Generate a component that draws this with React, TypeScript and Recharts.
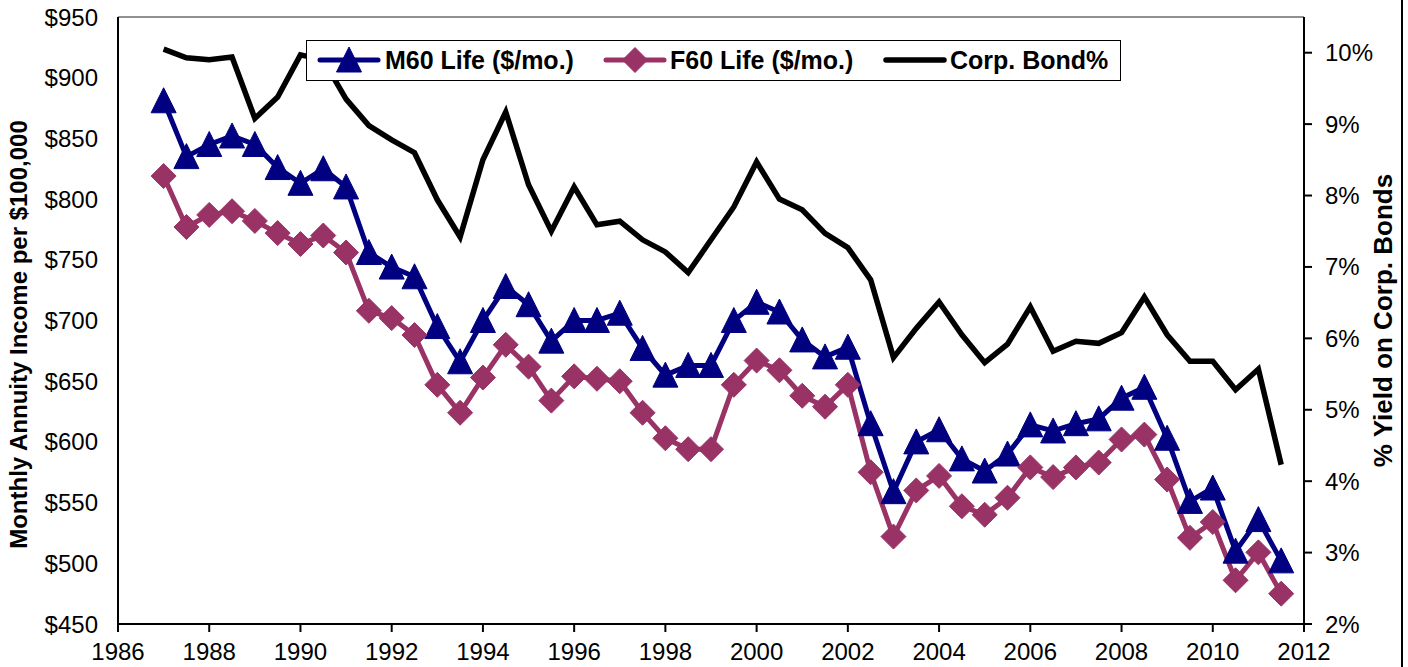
import React from 'react';
import { ComposedChart, Line, XAxis, YAxis, CartesianGrid } from 'recharts';

const years = [
  1987, 1987.5, 1988, 1988.5, 1989, 1989.5, 1990, 1990.5, 1991, 1991.5,
  1992, 1992.5, 1993, 1993.5, 1994, 1994.5, 1995, 1995.5, 1996, 1996.5,
  1997, 1997.5, 1998, 1998.5, 1999, 1999.5, 2000, 2000.5, 2001, 2001.5,
  2002, 2002.5, 2003, 2003.5, 2004, 2004.5, 2005, 2005.5, 2006, 2006.5,
  2007, 2007.5, 2008, 2008.5, 2009, 2009.5, 2010, 2010.5, 2011, 2011.5,
];

const m60 = [
  881, 835, 845, 852, 845, 826, 813, 825, 810, 756,
  744, 736, 695, 666, 700, 728, 713, 683, 700, 700,
  706, 677, 655, 663, 663, 700, 715, 707, 684, 670,
  678, 615, 559, 600, 610, 586, 576, 590, 614, 609,
  615, 619, 636, 645, 603, 551, 562, 510, 536, 502,
];

const f60 = [
  819, 777, 787, 790, 782, 772, 763, 770, 756, 708,
  702, 688, 647, 624, 653, 680, 662, 634, 654, 652,
  650, 624, 603, 594, 594, 647, 667, 659, 638, 629,
  647, 575, 522, 560, 572, 547, 540, 554, 579, 571,
  579, 583, 602, 606, 569, 521, 534, 486, 509, 475,
];

const corpBond = [
  10.05, 9.93, 9.9, 9.94, 9.08, 9.38, 9.97, 9.9, 9.35, 8.98,
  8.78, 8.6, 7.94, 7.42, 8.5, 9.17, 8.15, 7.5, 8.12, 7.59,
  7.64, 7.38, 7.21, 6.92, 7.38, 7.84, 8.47, 7.95, 7.8, 7.47,
  7.27, 6.82, 5.73, 6.14, 6.51, 6.05, 5.66, 5.92, 6.44, 5.82,
  5.96, 5.93, 6.08, 6.58, 6.05, 5.68, 5.68, 5.28, 5.57, 4.23,
];

const xTicks = [1986, 1988, 1990, 1992, 1994, 1996, 1998, 2000, 2002, 2004, 2006, 2008, 2010, 2012];
const leftTicks = [450, 500, 550, 600, 650, 700, 750, 800, 850, 900, 950];
const rightTicks = [2, 3, 4, 5, 6, 7, 8, 9, 10];

const data = years.map((year, i) => ({
  year,
  m60: m60[i],
  f60: f60[i],
  bond: corpBond[i],
}));

const NAVY = '#000080';
const PLUM = '#993366';
const FONT = '"Liberation Sans", Arial, sans-serif';

const Triangle = (props: any) => {
  const { cx, cy } = props;
  if (cx == null || cy == null) return <g />;
  return (
    <path
      d={`M${cx},${cy - 13} L${cx + 12.5},${cy + 12} L${cx - 12.5},${cy + 12} Z`}
      fill={NAVY}
      stroke={NAVY}
    />
  );
};

const Diamond = (props: any) => {
  const { cx, cy } = props;
  if (cx == null || cy == null) return <g />;
  return (
    <path
      d={`M${cx},${cy - 12.5} L${cx + 12.5},${cy} L${cx},${cy + 12.5} L${cx - 12.5},${cy} Z`}
      fill={PLUM}
      stroke={PLUM}
    />
  );
};

const tickStyle = { fontSize: 24, fill: '#000', fontFamily: FONT };

// legend drawn as an overlay box, like the original sits over the bond line
const LegendBox = () => (
  <div
    style={{
      position: 'absolute',
      left: 306,
      top: 40,
      width: 815,
      height: 41,
      boxSizing: 'border-box',
      border: '1px solid #000',
      background: '#fff',
    }}
  >
    <svg width={815} height={41} style={{ position: 'absolute', left: -1, top: -1 }}>
      <line x1={14} y1={20} x2={72} y2={20} stroke={NAVY} strokeWidth={5} strokeLinecap="round" />
      <Triangle cx={43} cy={20} />
      <line x1={300} y1={20} x2={358} y2={20} stroke={PLUM} strokeWidth={5} strokeLinecap="round" />
      <Diamond cx={329} cy={20} />
      <line x1={580} y1={20} x2={638} y2={20} stroke="#000" strokeWidth={5.5} strokeLinecap="round" />
      <text x={79} y={29} fontFamily={FONT} fontWeight="bold" fontSize={25}>M60 Life ($/mo.)</text>
      <text x={364} y={29} fontFamily={FONT} fontWeight="bold" fontSize={25}>F60 Life ($/mo.)</text>
      <text x={644} y={29} fontFamily={FONT} fontWeight="bold" fontSize={25}>Corp. Bond%</text>
    </svg>
  </div>
);

const App: React.FC = () => {
  return (
    <div
      style={{
        position: 'absolute',
        left: 0,
        top: 0,
        width: 1408,
        height: 667,
        background: '#fff',
        fontFamily: FONT,
      }}
    >
      <ComposedChart width={1408} height={667} data={data} margin={{ top: 17, right: 0, bottom: 0, left: 0 }}>
        <CartesianGrid vertical={false} stroke="#222" strokeWidth={1} />
        <XAxis
          dataKey="year"
          type="number"
          domain={[1986, 2012]}
          ticks={xTicks}
          height={43}
          tick={tickStyle}
          tickSize={8}
          tickMargin={11}
          stroke="#000"
          strokeWidth={2}
          allowDataOverflow
        />
        <YAxis
          yAxisId="left"
          orientation="left"
          domain={[450, 950]}
          ticks={leftTicks}
          width={118}
          tick={tickStyle}
          tickLine={false}
          tickSize={8}
          tickMargin={12}
          tickFormatter={(v: number) => `$${v}`}
          stroke="#000"
          strokeWidth={2}
          label={{
            value: 'Monthly Annuity Income per $100,000',
            angle: -90,
            position: 'insideLeft',
            offset: 0,
            dx: 18,
            dy: 14,
            style: { fontSize: 24, fontWeight: 'bold', fill: '#000', fontFamily: FONT, textAnchor: 'middle' },
          }}
        />
        <YAxis
          yAxisId="right"
          orientation="right"
          domain={[2, 10.5]}
          ticks={rightTicks}
          width={104}
          tick={tickStyle}
          tickSize={8}
          tickMargin={13}
          tickFormatter={(v: number) => `${v}%`}
          stroke="#000"
          strokeWidth={2}
          allowDataOverflow
          label={{
            value: '% Yield on Corp. Bonds',
            angle: -90,
            position: 'insideRight',
            offset: 0,
            dx: -25,
            style: { fontSize: 26, fontWeight: 'bold', fill: '#000', fontFamily: FONT, textAnchor: 'middle' },
          }}
        />
        <Line
          yAxisId="left"
          dataKey="m60"
          stroke={NAVY}
          strokeWidth={5}
          dot={<Triangle />}
          activeDot={false}
          isAnimationActive={false}
        />
        <Line
          yAxisId="left"
          dataKey="f60"
          stroke={PLUM}
          strokeWidth={5}
          dot={<Diamond />}
          activeDot={false}
          isAnimationActive={false}
        />
        <Line
          yAxisId="right"
          dataKey="bond"
          stroke="#000"
          strokeWidth={5.5}
          dot={false}
          activeDot={false}
          isAnimationActive={false}
        />
      </ComposedChart>
      <LegendBox />
      <div style={{ position: 'absolute', left: 1401, top: 0, width: 2, height: 667, background: '#000' }} />
    </div>
  );
};

export default App;
